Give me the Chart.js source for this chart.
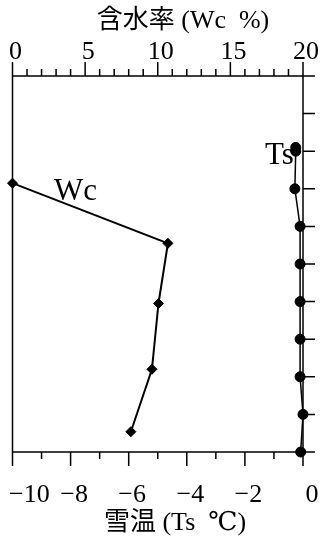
<!DOCTYPE html>
<html>
<head>
<meta charset="utf-8">
<script src="https://cdn.jsdelivr.net/npm/chart.js@4"></script>
<style>
  html, body { margin: 0; padding: 0; background: #fff; }
</style>
</head>
<body>
<canvas id="snowChart" width="327" height="539"></canvas>
<script>
// 含水率 Wc (%) vs depth
const wcDepth = [2.85, 4.45, 6.05, 7.8, 9.46];
const wcValues = [0, 10.7, 10.05, 9.6, 8.15];

// 雪温 Ts (℃) vs depth
const tsDepth = [1.9, 2.0, 3, 4, 5, 6, 7, 8, 9, 10];
const tsValues = [-0.25, -0.25, -0.28, -0.1, -0.1, -0.1, -0.1, -0.1, 0.0, -0.08];

// tick labels
const wcTicks = [0, 5, 10, 15, 20];
const tsTicks = [-10, -8, -6, -4, -2, 0];
const depthTicks = [0, 1, 2, 3, 4, 5, 6, 7, 8, 9, 10];

const serif = '"Liberation Serif", "DejaVu Serif", "Noto Sans CJK JP", serif';

function minusLabel(v) {
    return v < 0 ? "\u2212" + Math.abs(v) : String(v);
}

const frameAxes = {
    id: "frameAxes",
    beforeDatasetsDraw(chart) {
        const ctx = chart.ctx;
        const top = chart.scales.xTop;
        const bot = chart.scales.xBot;
        const y = chart.scales.y;
        const area = chart.chartArea;
        const extRight = area.right + 12;

        ctx.save();
        ctx.strokeStyle = "#000";
        ctx.lineWidth = 1.5;
        ctx.beginPath();
        // frame
        ctx.moveTo(area.left, area.top);
        ctx.lineTo(extRight, area.top);
        ctx.moveTo(area.left, area.bottom);
        ctx.lineTo(extRight, area.bottom);
        ctx.moveTo(area.left, area.top);
        ctx.lineTo(area.left, area.bottom);
        ctx.moveTo(area.right, area.top);
        ctx.lineTo(area.right, area.bottom);

        // top ticks (Wc), every 1, major every 5
        for (let v = 0; v <= 20; v++) {
            const px = top.getPixelForValue(v);
            const len = v % 5 === 0 ? 14 : 7;
            ctx.moveTo(px, area.top);
            ctx.lineTo(px, area.top - len);
        }
        // bottom ticks (Ts), every 1, major every 2
        for (let v = -10; v <= 0; v++) {
            const px = bot.getPixelForValue(v);
            const len = v % 2 === 0 ? 14 : 7;
            ctx.moveTo(px, area.bottom);
            ctx.lineTo(px, area.bottom + len);
        }
        // right ticks (depth)
        depthTicks.forEach(d => {
            const py = y.getPixelForValue(d);
            ctx.moveTo(area.right, py);
            ctx.lineTo(extRight, py);
        });
        ctx.stroke();

        // tick labels
        ctx.fillStyle = "#000";
        ctx.font = "26px " + serif;
        ctx.textAlign = "center";
        ctx.textBaseline = "middle";
        wcTicks.forEach(v => {
            ctx.fillText(String(v), top.getPixelForValue(v) + 3, area.top - 24);
        });
        tsTicks.forEach(v => {
            const txt = minusLabel(v);
            const w = ctx.measureText(txt).width;
            let cx = bot.getPixelForValue(v) + 3.5;
            if (cx - w / 2 < 9) cx = 9 + w / 2;
            if (v === 0) cx += 5.5;
            ctx.fillText(txt, cx, area.bottom + 43);
        });

        // axis titles
        ctx.font = "26px " + serif;
        ctx.fillText("含水率 (Wc  %)", 183, 21);
        ctx.fillText("雪温 (Ts  ℃)", 175, 523);

        // series labels
        ctx.font = "31px " + serif;
        ctx.textAlign = "left";
        ctx.textBaseline = "alphabetic";
        ctx.fillText("Wc", 54, 200);
        ctx.fillText("Ts", 265, 164);
        ctx.restore();
    }
};

new Chart(document.getElementById("snowChart"), {
    type: "scatter",
    data: {
        datasets: [{
            label: "Wc",
            data: wcDepth.map((d, i) => ({ x: wcValues[i], y: d })),
            xAxisID: "xTop",
            showLine: true,
            borderColor: "#000",
            borderWidth: 2,
            pointStyle: "rectRot",
            pointRadius: 5,
            pointBackgroundColor: "#000",
            pointBorderColor: "#000",
            pointBorderWidth: 1,
            clip: false
        }, {
            label: "Ts",
            data: tsDepth.map((d, i) => ({ x: tsValues[i], y: d })),
            xAxisID: "xBot",
            showLine: true,
            borderColor: "#000",
            borderWidth: 1.5,
            pointStyle: "circle",
            pointRadius: 5,
            pointBackgroundColor: "#000",
            pointBorderColor: "#000",
            pointBorderWidth: 1,
            clip: false
        }]
    },
    options: {
        responsive: false,
        animation: false,
        devicePixelRatio: 1,
        layout: { padding: { left: 12.5, right: 24, top: 76, bottom: 87 } },
        plugins: { legend: { display: false }, tooltip: { enabled: false } },
        scales: {
            xTop: { type: "linear", position: "top", min: 0, max: 20, display: false },
            xBot: { type: "linear", position: "bottom", min: -10, max: 0, display: false },
            y: { type: "linear", position: "right", min: 0, max: 10, reverse: true, display: false }
        }
    },
    plugins: [frameAxes]
});
</script>
</body>
</html>
